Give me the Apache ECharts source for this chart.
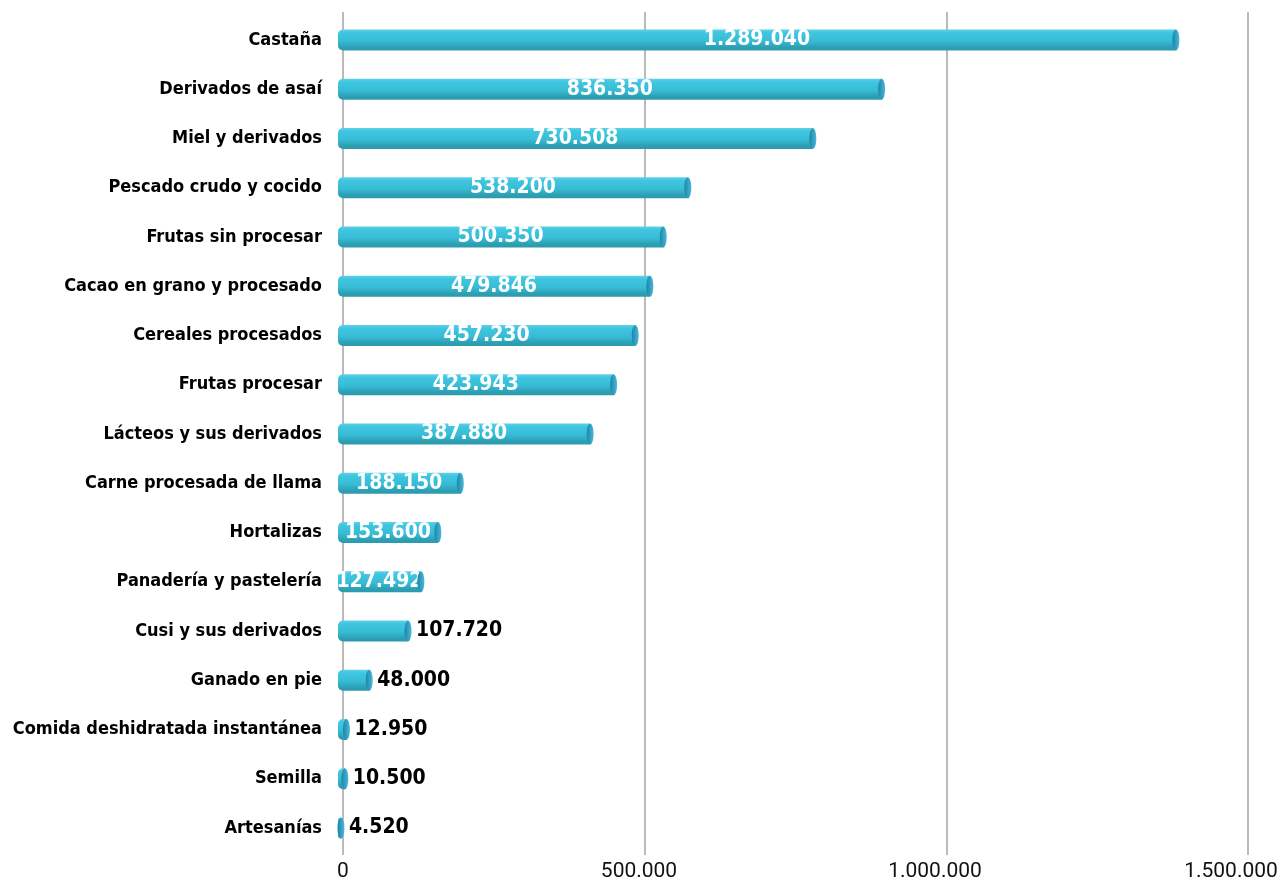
<!DOCTYPE html>
<html>
<head>
<meta charset="utf-8">
<script src="https://cdn.jsdelivr.net/npm/echarts@6/dist/echarts.min.js"></script>
<style>
  html, body { margin: 0; padding: 0; background: #fff; }
  #chart { width: 1283px; height: 882px; }
</style>
</head>
<body>
<div id="chart"></div>
<script>
const categories = [
  'Castaña',
  'Derivados de asaí',
  'Miel y derivados',
  'Pescado crudo y cocido',
  'Frutas sin procesar',
  'Cacao en grano y procesado',
  'Cereales procesados',
  'Frutas procesar',
  'Lácteos y sus derivados',
  'Carne procesada de llama',
  'Hortalizas',
  'Panadería y pastelería',
  'Cusi y sus derivados',
  'Ganado en pie',
  'Comida deshidratada instantánea',
  'Semilla',
  'Artesanías',
]
const values = [
  1289040, 836350, 730508, 538200, 500350, 479846, 457230, 423943, 387880,
  188150, 153600, 127492, 107720, 48000, 12950, 10500, 4520,
]
const tickValues = [0, 500000, 1000000, 1500000]

const narrow = '"DejaVu Sans Condensed", "Liberation Sans Narrow", sans-serif'

// 1.289.040 style
const fmt = v => String(v).replace(/\B(?=(\d{3})+(?!\d))/g, '.')

const barFill = new echarts.graphic.LinearGradient(0, 0, 0, 1, [
  { offset: 0, color: '#5fd2e8' },
  { offset: 0.15, color: '#3fc6e0' },
  { offset: 0.55, color: '#38bcd5' },
  { offset: 0.85, color: '#2c9fb3' },
  { offset: 1, color: '#2d9aad' },
])
const capFill = new echarts.graphic.LinearGradient(0, 0, 1, 0, [
  { offset: 0, color: '#1b86a8' },
  { offset: 1, color: '#4cb8d8' },
])

const chart = echarts.init(document.getElementById('chart'))

chart.setOption({
  backgroundColor: '#fff',
  animation: false,
  grid: [
    // bars
    { left: 338, right: 35, top: 15.4, bottom: 29.4, outerBoundsMode: 'none' },
    // back-wall gridlines
    { left: 343, right: 35, top: 12, bottom: 27, outerBoundsMode: 'none' },
    // front axis labels
    { left: 343, right: 52, top: 12, bottom: 27, outerBoundsMode: 'none' },
  ],
  xAxis: [
    { gridIndex: 0, type: 'value', min: 0, max: 1400000, show: false },
    {
      gridIndex: 1,
      type: 'value',
      min: tickValues[0],
      max: tickValues[tickValues.length - 1],
      interval: tickValues[1] - tickValues[0],
      axisLine: { show: false },
      axisTick: { show: false },
      axisLabel: { show: false },
      splitLine: { show: true, lineStyle: { color: '#a3a3a6', width: 1.5 } },
    },
    {
      gridIndex: 2,
      type: 'value',
      min: tickValues[0],
      max: tickValues[tickValues.length - 1],
      interval: tickValues[1] - tickValues[0],
      axisLine: { show: false },
      axisTick: { show: false },
      splitLine: { show: false },
      axisLabel: {
        margin: 6,
        color: '#111',
        fontSize: 21,
        fontFamily: 'Roboto, sans-serif',
        formatter: v => fmt(v),
      },
    },
  ],
  yAxis: [
    {
      gridIndex: 0,
      type: 'category',
      data: categories,
      inverse: true,
      axisLine: { show: false },
      axisTick: { show: false },
      axisLabel: {
        margin: 16,
        color: '#000',
        fontSize: 18,
        fontWeight: 'bold',
        fontFamily: narrow,
      },
    },
    { gridIndex: 1, type: 'value', show: false },
    { gridIndex: 2, type: 'value', show: false },
  ],
  series: [
    {
      type: 'bar',
      xAxisIndex: 0,
      yAxisIndex: 0,
      barWidth: 21,
      barGap: '-100%',
      z: 3,
      itemStyle: { color: barFill, borderRadius: [5, 0, 0, 5] },
      data: values.map(v => ({
        value: v,
        label: v >= 120000
          ? { show: true, position: 'inside', color: '#fff' }
          : { show: true, position: 'right', distance: 8, color: '#000' },
      })),
      label: {
        fontSize: 21,
        fontWeight: 'bold',
        fontFamily: narrow,
        formatter: p => fmt(p.value),
      },
    },
    {
      // rounded end cap of each cylinder
      type: 'pictorialBar',
      xAxisIndex: 0,
      yAxisIndex: 0,
      barWidth: 21,
      barGap: '-100%',
      symbol: 'circle',
      symbolSize: [7, 21],
      symbolPosition: 'end',
      symbolOffset: ['50%', 0],
      z: 4,
      itemStyle: { color: capFill },
      data: values,
    },
  ],
})
</script>
</body>
</html>
